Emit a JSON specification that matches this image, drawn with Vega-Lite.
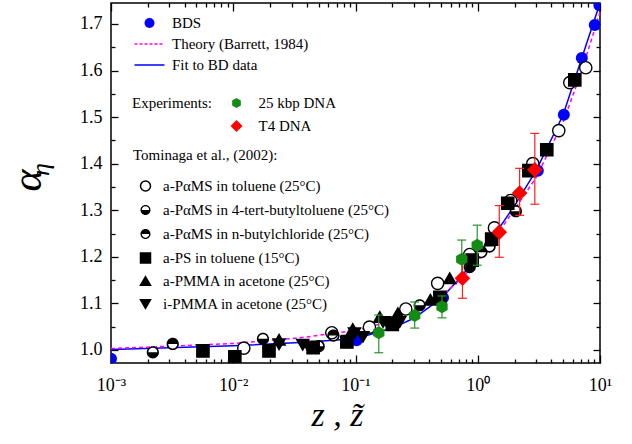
{
  "$schema": "https://vega.github.io/schema/vega-lite/v6.json",
  "width": 489,
  "height": 360,
  "autosize": "none",
  "padding": {"left": 111, "top": 3, "right": 32, "bottom": 81},
  "background": "white",
  "config": {
    "view": {"stroke": "black", "strokeWidth": 1.5},
    "axis": {
      "grid": false,
      "domain": false,
      "labelFlush": false,
      "labelOverlap": false,
      "labelFont": "Liberation Serif",
      "titleFont": "Liberation Serif",
      "labelColor": "black",
      "titleColor": "black",
      "tickColor": "black",
      "tickWidth": 1.3
    },
    "legend": {
      "labelFont": "Liberation Serif",
      "titleFont": "Liberation Serif",
      "labelColor": "black",
      "titleColor": "black",
      "titleFontWeight": "normal",
      "labelFontSize": 15,
      "titleFontSize": 15,
      "labelLimit": 320,
      "padding": 0
    }
  },
  "datasets": {
    "curves": [
      {"curve": "fit", "z": 0.001, "a": 1.001},
      {"curve": "fit", "z": 0.003, "a": 1.005},
      {"curve": "fit", "z": 0.01, "a": 1.009},
      {"curve": "fit", "z": 0.035, "a": 1.016},
      {"curve": "fit", "z": 0.1, "a": 1.024},
      {"curve": "fit", "z": 0.2, "a": 1.047},
      {"curve": "fit", "z": 0.3, "a": 1.068},
      {"curve": "fit", "z": 0.5, "a": 1.11},
      {"curve": "fit", "z": 0.7, "a": 1.152},
      {"curve": "fit", "z": 1.0, "a": 1.2},
      {"curve": "fit", "z": 1.5, "a": 1.262},
      {"curve": "fit", "z": 2.0, "a": 1.31},
      {"curve": "fit", "z": 3.0, "a": 1.385},
      {"curve": "fit", "z": 5.0, "a": 1.505},
      {"curve": "fit", "z": 7.0, "a": 1.622},
      {"curve": "fit", "z": 10, "a": 1.745},
      {"curve": "theory", "z": 0.001, "a": 1.003},
      {"curve": "theory", "z": 0.003, "a": 1.008},
      {"curve": "theory", "z": 0.01, "a": 1.014},
      {"curve": "theory", "z": 0.035, "a": 1.026},
      {"curve": "theory", "z": 0.1, "a": 1.042},
      {"curve": "theory", "z": 0.2, "a": 1.062},
      {"curve": "theory", "z": 0.3, "a": 1.08},
      {"curve": "theory", "z": 0.5, "a": 1.115},
      {"curve": "theory", "z": 0.7, "a": 1.148},
      {"curve": "theory", "z": 1.0, "a": 1.19},
      {"curve": "theory", "z": 1.5, "a": 1.255},
      {"curve": "theory", "z": 2.0, "a": 1.302},
      {"curve": "theory", "z": 3.0, "a": 1.37},
      {"curve": "theory", "z": 5.0, "a": 1.49},
      {"curve": "theory", "z": 7.0, "a": 1.595},
      {"curve": "theory", "z": 10, "a": 1.725}
    ],
    "bds": [
      {"leg": "BDS", "z": 0.001, "a": 0.981},
      {"leg": "BDS", "z": 0.102, "a": 1.021},
      {"leg": "BDS", "z": 0.52, "a": 1.112},
      {"leg": "BDS", "z": 3.1, "a": 1.385},
      {"leg": "BDS", "z": 5.06, "a": 1.505},
      {"leg": "BDS", "z": 7.1, "a": 1.627},
      {"leg": "BDS", "z": 9.06, "a": 1.698},
      {"leg": "BDS", "z": 9.9, "a": 1.74}
    ],
    "exp": [
      {"exp": "25 kbp DNA", "z": 0.155, "a": 1.037, "lo": 0.994, "hi": 1.075},
      {"exp": "25 kbp DNA", "z": 0.305, "a": 1.074, "lo": 1.047, "hi": 1.103},
      {"exp": "25 kbp DNA", "z": 0.51, "a": 1.093, "lo": 1.069, "hi": 1.116},
      {"exp": "25 kbp DNA", "z": 0.74, "a": 1.195, "lo": 1.156, "hi": 1.236},
      {"exp": "25 kbp DNA", "z": 0.99, "a": 1.225, "lo": 1.182, "hi": 1.268},
      {"exp": "T4 DNA", "z": 0.75, "a": 1.154, "lo": 1.111, "hi": 1.199},
      {"exp": "T4 DNA", "z": 1.5, "a": 1.253, "lo": 1.199, "hi": 1.31},
      {"exp": "T4 DNA", "z": 2.2, "a": 1.337, "lo": 1.289, "hi": 1.39},
      {"exp": "T4 DNA", "z": 2.93, "a": 1.387, "lo": 1.313, "hi": 1.465}
    ],
    "tom": [
      {"set": "t1", "z": 0.0122, "a": 1.004},
      {"set": "t1", "z": 0.064, "a": 1.037},
      {"set": "t1", "z": 0.13, "a": 1.049},
      {"set": "t1", "z": 0.258, "a": 1.088},
      {"set": "t1", "z": 0.47, "a": 1.143},
      {"set": "t1", "z": 0.86, "a": 1.205},
      {"set": "t1", "z": 1.37, "a": 1.262},
      {"set": "t1", "z": 1.86, "a": 1.321},
      {"set": "t1", "z": 2.82, "a": 1.4},
      {"set": "t1", "z": 4.6, "a": 1.471},
      {"set": "t1", "z": 5.66, "a": 1.574},
      {"set": "t1", "z": 7.65, "a": 1.606},
      {"set": "t2", "z": 0.0022, "a": 0.995},
      {"set": "t2", "z": 0.0175, "a": 1.024},
      {"set": "t2", "z": 0.05, "a": 1.008},
      {"set": "t2", "z": 0.335, "a": 1.096},
      {"set": "t2", "z": 0.86, "a": 1.178},
      {"set": "t2", "z": 2.05, "a": 1.298},
      {"set": "t3", "z": 0.0032, "a": 1.013},
      {"set": "t3", "z": 0.066, "a": 1.031},
      {"set": "t3", "z": 0.19, "a": 1.06},
      {"set": "t3", "z": 1.07, "a": 1.21},
      {"set": "t3", "z": 1.25, "a": 1.222},
      {"set": "t4", "z": 0.00565, "a": 0.998},
      {"set": "t4", "z": 0.0103, "a": 0.985},
      {"set": "t4", "z": 0.0196, "a": 0.998},
      {"set": "t4", "z": 0.045, "a": 1.005},
      {"set": "t4", "z": 0.085, "a": 1.017},
      {"set": "t4", "z": 0.2, "a": 1.055},
      {"set": "t4", "z": 0.49, "a": 1.113},
      {"set": "t4", "z": 0.9, "a": 1.193},
      {"set": "t4", "z": 1.3, "a": 1.238},
      {"set": "t4", "z": 1.76, "a": 1.315},
      {"set": "t4", "z": 2.62, "a": 1.385},
      {"set": "t4", "z": 3.67, "a": 1.43},
      {"set": "t4", "z": 6.22, "a": 1.58},
      {"set": "t5", "z": 0.0237, "a": 1.022},
      {"set": "t5", "z": 0.095, "a": 1.045},
      {"set": "t5", "z": 0.158, "a": 1.071},
      {"set": "t5", "z": 0.222, "a": 1.079},
      {"set": "t5", "z": 0.41, "a": 1.108},
      {"set": "t5", "z": 0.59, "a": 1.154},
      {"set": "t6", "z": 0.0237, "a": 1.012},
      {"set": "t6", "z": 0.037, "a": 1.011},
      {"set": "t6", "z": 0.041, "a": 1.007},
      {"set": "t6", "z": 0.087, "a": 1.02},
      {"set": "t6", "z": 0.098, "a": 1.036},
      {"set": "t6", "z": 0.115, "a": 1.028},
      {"set": "t6", "z": 0.168, "a": 1.06},
      {"set": "t6", "z": 0.23, "a": 1.06}
    ]
  },
  "resolve": {
    "scale": {
      "shape": "independent",
      "fill": "independent",
      "stroke": "independent",
      "strokeDash": "independent",
      "color": "independent"
    },
    "axis": {"x": "independent", "y": "independent"}
  },
  "layer": [
    {
      "data": {"name": "curves"},
      "transform": [{"filter": "datum.curve === 'fit'"}],
      "mark": {"type": "line", "color": "#0000ff", "strokeWidth": 1.5, "clip": true},
      "encoding": {
        "x": {
          "field": "z", "type": "quantitative",
          "scale": {"type": "log", "domain": [0.001, 10], "nice": false},
          "axis": {
            "orient": "bottom",
            "values": [0.001, 0.01, 0.1, 1, 10],
            "tickSize": -8,
            "labelPadding": 21,
            "labelFontSize": 18,
            "labelExpr": "datum.value < 0.005 ? '10⁻³' : datum.value < 0.05 ? '10⁻²' : datum.value < 0.5 ? '10⁻¹' : datum.value < 5 ? '10⁰' : '10¹'",
            "title": "z , z̃",
            "titleFontSize": 34,
            "titleFontStyle": "italic",
            "titleFontWeight": "normal",
            "titleX": 226,
            "titleY": 62,
            "titleBaseline": "alphabetic"
          }
        },
        "y": {
          "field": "a", "type": "quantitative",
          "scale": {"domain": [0.972, 1.745], "zero": false, "nice": false},
          "axis": {
            "orient": "left",
            "values": [1.0, 1.1, 1.2, 1.3, 1.4, 1.5, 1.6, 1.7],
            "format": ".1f",
            "tickSize": -7,
            "labelPadding": 16,
            "labelFontSize": 18,
            "title": "α",
            "titleFontSize": 42,
            "titleFontStyle": "italic",
            "titleFontWeight": "normal",
            "titleAngle": -90,
            "titleX": -71,
            "titleY": 177,
            "titleAlign": "center",
            "titleBaseline": "alphabetic"
          }
        }
      }
    },
    {
      "data": {"name": "curves"},
      "transform": [{"filter": "datum.curve === 'theory'"}],
      "mark": {"type": "line", "color": "#ff00ff", "strokeWidth": 1.5, "strokeDash": [4, 3], "clip": true},
      "encoding": {
        "x": {
          "field": "z", "type": "quantitative",
          "axis": {
            "orient": "bottom",
            "values": [0.002, 0.003, 0.004, 0.005, 0.006, 0.007, 0.008, 0.009, 0.02, 0.03, 0.04, 0.05, 0.06, 0.07, 0.08, 0.09, 0.2, 0.3, 0.4, 0.5, 0.6, 0.7, 0.8, 0.9, 2, 3, 4, 5, 6, 7, 8, 9],
            "tickSize": -4,
            "labels": false,
            "title": null
          }
        },
        "y": {
          "field": "a", "type": "quantitative",
          "axis": {
            "orient": "left",
            "values": [1.05, 1.15, 1.25, 1.35, 1.45, 1.55, 1.65],
            "tickSize": -4,
            "labels": false,
            "title": null
          }
        }
      }
    },
    {
      "data": {"name": "bds"},
      "mark": {"type": "point", "size": 144, "opacity": 1, "strokeWidth": 1.5, "clip": true},
      "encoding": {
        "x": {
          "field": "z", "type": "quantitative",
          "axis": {
            "orient": "top",
            "values": [0.001, 0.01, 0.1, 1, 10],
            "tickSize": -8,
            "labels": false,
            "title": null
          }
        },
        "y": {
          "field": "a", "type": "quantitative",
          "axis": {
            "orient": "right",
            "values": [1.0, 1.1, 1.2, 1.3, 1.4, 1.5, 1.6, 1.7],
            "tickSize": -7,
            "labels": false,
            "title": "η",
            "titleFontSize": 26,
            "titleFontStyle": "italic",
            "titleFontWeight": "normal",
            "titleAngle": -90,
            "titleX": -552,
            "titleY": 166,
            "titleAlign": "center",
            "titleBaseline": "alphabetic"
          }
        },
        "shape": {
          "field": "leg", "type": "nominal",
          "scale": {"domain": ["BDS", "Theory (Barrett, 1984)", "Fit to BD data"], "range": ["circle", "M-3,0L3,0", "M-3,0L3,0"]},
          "legend": {
            "orient": "none", "legendX": 31, "legendY": 12.5, "title": null,
            "rowPadding": 5, "labelOffset": 15, "symbolStrokeWidth": 1.5
          }
        },
        "fill": {
          "field": "leg", "type": "nominal",
          "scale": {"domain": ["BDS", "Theory (Barrett, 1984)", "Fit to BD data"], "range": ["#0000ff", "transparent", "transparent"]},
          "legend": {
            "orient": "none", "legendX": 31, "legendY": 12.5, "title": null,
            "rowPadding": 5, "labelOffset": 15, "symbolStrokeWidth": 1.5
          }
        },
        "stroke": {
          "field": "leg", "type": "nominal",
          "scale": {"domain": ["BDS", "Theory (Barrett, 1984)", "Fit to BD data"], "range": ["transparent", "#ff00ff", "#0000ff"]},
          "legend": {
            "orient": "none", "legendX": 31, "legendY": 12.5, "title": null,
            "rowPadding": 5, "labelOffset": 15, "symbolStrokeWidth": 1.5
          }
        },
        "strokeDash": {
          "field": "leg", "type": "nominal",
          "scale": {"domain": ["BDS", "Theory (Barrett, 1984)", "Fit to BD data"], "range": [[1, 0], [3, 2], [1, 0]]},
          "legend": {
            "orient": "none", "legendX": 31, "legendY": 12.5, "title": null,
            "rowPadding": 5, "labelOffset": 15, "symbolStrokeWidth": 1.5
          }
        }
      }
    },
    {
      "data": {"name": "tom"},
      "transform": [{"filter": "datum.set === 't2' || datum.set === 't3'"}],
      "mark": {"type": "point", "shape": "circle", "size": 120, "filled": true, "color": "white", "opacity": 1, "clip": true},
      "encoding": {
        "x": {"field": "z", "type": "quantitative", "axis": null},
        "y": {"field": "a", "type": "quantitative", "axis": null}
      }
    },
    {
      "data": {"name": "tom"},
      "mark": {"type": "point", "size": 150, "opacity": 1, "strokeWidth": 1.4, "clip": true},
      "encoding": {
        "x": {
          "field": "z", "type": "quantitative",
          "axis": {
            "orient": "top",
            "values": [0.002, 0.003, 0.004, 0.005, 0.006, 0.007, 0.008, 0.009, 0.02, 0.03, 0.04, 0.05, 0.06, 0.07, 0.08, 0.09, 0.2, 0.3, 0.4, 0.5, 0.6, 0.7, 0.8, 0.9, 2, 3, 4, 5, 6, 7, 8, 9],
            "tickSize": -4,
            "labels": false,
            "title": null
          }
        },
        "y": {
          "field": "a", "type": "quantitative",
          "axis": {
            "orient": "right",
            "values": [1.05, 1.15, 1.25, 1.35, 1.45, 1.55, 1.65],
            "tickSize": -4,
            "labels": false,
            "title": null
          }
        },
        "shape": {
          "field": "set", "type": "nominal",
          "scale": {
            "domain": ["t1", "t2", "t3", "t4", "t5", "t6"],
            "range": [
              "circle",
              "M1,0A1,1,0,1,1,-1,0A1,1,0,1,1,1,0ZM0.74,0A0.74,0.74,0,1,0,-0.74,0A0.74,0.74,0,1,0,0.74,0ZM-0.74,0L0.74,0A0.74,0.74,0,0,1,-0.74,0Z",
              "M1,0A1,1,0,1,1,-1,0A1,1,0,1,1,1,0ZM0.74,0A0.74,0.74,0,1,0,-0.74,0A0.74,0.74,0,1,0,0.74,0ZM-0.74,0A0.74,0.74,0,0,1,0.74,0Z",
              "square",
              "triangle-up",
              "triangle-down"
            ]
          },
          "legend": {
            "orient": "none", "legendX": 22, "legendY": 144.5,
            "title": "Tominaga et al., (2002):", "titlePadding": 16,
            "rowPadding": 7, "symbolOffset": 5, "labelOffset": 10,
            "labelExpr": "{'t1': 'a-PαMS in toluene (25°C)', 't2': 'a-PαMS in 4-tert-butyltoluene (25°C)', 't3': 'a-PαMS in n-butylchloride (25°C)', 't4': 'a-PS in toluene (15°C)', 't5': 'a-PMMA in acetone (25°C)', 't6': 'i-PMMA in acetone (25°C)'}[datum.value]"
          }
        },
        "fill": {
          "field": "set", "type": "nominal",
          "scale": {"domain": ["t1", "t2", "t3", "t4", "t5", "t6"], "range": ["white", "black", "black", "black", "black", "black"]},
          "legend": {
            "orient": "none", "legendX": 22, "legendY": 144.5,
            "title": "Tominaga et al., (2002):", "titlePadding": 16,
            "rowPadding": 7, "symbolOffset": 5, "labelOffset": 10,
            "labelExpr": "{'t1': 'a-PαMS in toluene (25°C)', 't2': 'a-PαMS in 4-tert-butyltoluene (25°C)', 't3': 'a-PαMS in n-butylchloride (25°C)', 't4': 'a-PS in toluene (15°C)', 't5': 'a-PMMA in acetone (25°C)', 't6': 'i-PMMA in acetone (25°C)'}[datum.value]"
          }
        },
        "stroke": {
          "field": "set", "type": "nominal",
          "scale": {"domain": ["t1", "t2", "t3", "t4", "t5", "t6"], "range": ["black", "transparent", "transparent", "black", "black", "black"]},
          "legend": {
            "orient": "none", "legendX": 22, "legendY": 144.5,
            "title": "Tominaga et al., (2002):", "titlePadding": 16,
            "rowPadding": 7, "symbolOffset": 5, "labelOffset": 10,
            "labelExpr": "{'t1': 'a-PαMS in toluene (25°C)', 't2': 'a-PαMS in 4-tert-butyltoluene (25°C)', 't3': 'a-PαMS in n-butylchloride (25°C)', 't4': 'a-PS in toluene (15°C)', 't5': 'a-PMMA in acetone (25°C)', 't6': 'i-PMMA in acetone (25°C)'}[datum.value]"
          }
        }
      }
    },
    {
      "data": {"name": "exp"},
      "mark": {"type": "rule", "strokeWidth": 1.2, "clip": true},
      "encoding": {
        "x": {"field": "z", "type": "quantitative", "axis": null},
        "y": {"field": "lo", "type": "quantitative", "axis": null},
        "y2": {"field": "hi"},
        "color": {
          "field": "exp", "type": "nominal",
          "scale": {"domain": ["25 kbp DNA", "T4 DNA"], "range": ["#2a922a", "#ff2020"]},
          "legend": null
        }
      }
    },
    {
      "data": {"name": "exp"},
      "transform": [{"fold": ["lo", "hi"], "as": ["end", "bound"]}],
      "mark": {"type": "tick", "orient": "horizontal", "size": 9, "thickness": 1.2, "opacity": 1, "clip": true},
      "encoding": {
        "x": {"field": "z", "type": "quantitative", "axis": null},
        "y": {"field": "bound", "type": "quantitative", "axis": null},
        "color": {
          "field": "exp", "type": "nominal",
          "scale": {"domain": ["25 kbp DNA", "T4 DNA"], "range": ["#2a922a", "#ff2020"]},
          "legend": null
        }
      }
    },
    {
      "data": {"name": "exp"},
      "mark": {"type": "point", "size": 169, "opacity": 1, "filled": true, "clip": true},
      "encoding": {
        "x": {"field": "z", "type": "quantitative", "axis": null},
        "y": {"field": "a", "type": "quantitative", "axis": null},
        "shape": {
          "field": "exp", "type": "nominal",
          "scale": {"domain": ["25 kbp DNA", "T4 DNA"], "range": ["M0,-1L0.87,-0.5L0.87,0.5L0,1L-0.87,0.5L-0.87,-0.5Z", "M0,-1.2L1.2,0L0,1.2L-1.2,0Z"]},
          "legend": {
            "orient": "none", "legendX": 21, "legendY": 92.5,
            "title": "Experiments:", "titleOrient": "left", "titleAnchor": "start", "titlePadding": 17,
            "titleBaseline": "top", "rowPadding": 5, "labelOffset": 14.5
          }
        },
        "fill": {
          "field": "exp", "type": "nominal",
          "scale": {"domain": ["25 kbp DNA", "T4 DNA"], "range": ["#148c14", "#ff0000"]},
          "legend": {
            "orient": "none", "legendX": 21, "legendY": 92.5,
            "title": "Experiments:", "titleOrient": "left", "titleAnchor": "start", "titlePadding": 17,
            "titleBaseline": "top", "rowPadding": 5, "labelOffset": 14.5
          }
        }
      }
    }
  ]
}
